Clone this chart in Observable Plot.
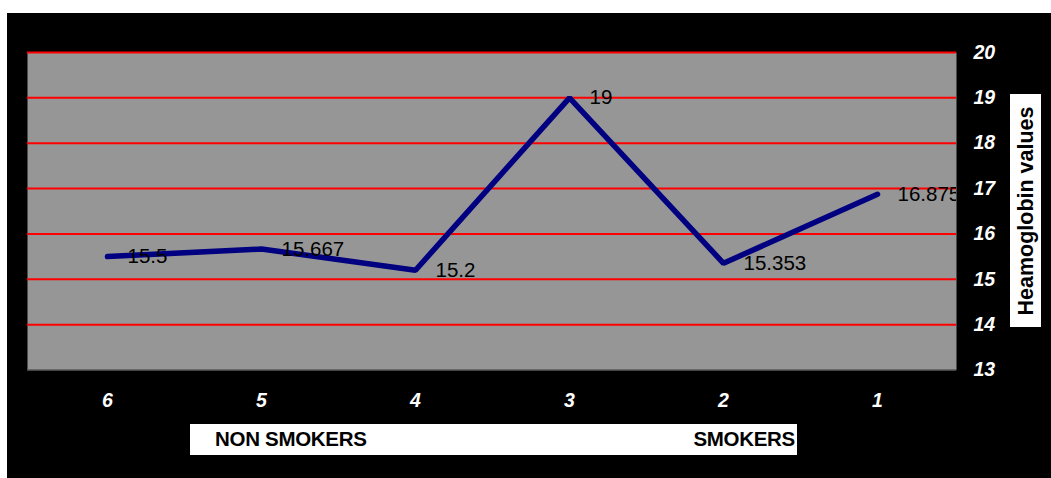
<!DOCTYPE html>
<html><head><meta charset="utf-8">
<script src="https://cdn.jsdelivr.net/npm/d3@7"></script>
<script src="https://cdn.jsdelivr.net/npm/@observablehq/plot@0.6"></script>
<style>
html,body{margin:0;padding:0;background:#fff;width:1051px;height:478px;overflow:hidden;font-family:Arial,"Liberation Sans",sans-serif;}
#panel{position:absolute;left:7px;top:13px;width:1044px;height:465px;background:#000;}
#panel svg{display:block;background:transparent;}
#ytitle{position:absolute;left:1010px;top:94px;width:31px;height:233px;background:#fff;}
#ytitle span{position:absolute;left:50%;top:50%;transform:translate(-50%,-50%) rotate(-90deg);white-space:nowrap;font-weight:bold;font-size:21.5px;color:#000;}
#groups{position:absolute;left:190px;top:424px;width:607px;height:31px;background:#fff;}
#groups span{position:absolute;top:4px;font-weight:bold;font-size:20.5px;line-height:22px;color:#000;letter-spacing:-0.3px;}
</style>
</head><body>
<div id="panel"></div>
<div id="ytitle"><span></span></div>
<div id="groups"></div>
<script>
const categories = ["6","5","4","3","2","1"];
const values = [15.5, 15.667, 15.2, 19, 15.353, 16.875];
const valueLabels = ["15.5","15.667","15.2","19","15.353","16.875"];
const yTicks = [13,14,15,16,17,18,19,20];
const gridLines = [14,15,16,17,18,19,20];
const yTitle = "Heamoglobin values";
const groupLabels = ["NON SMOKERS","SMOKERS"];

const data = categories.map((c,i)=>({cat:c, v:values[i], label:valueLabels[i]}));
const font = "Arial, 'Liberation Sans', sans-serif";

const chart = Plot.plot({
  width: 1044,
  height: 465,
  marginLeft: 20,
  marginRight: 95,
  marginTop: 39,
  marginBottom: 108.5,
  style: {background: "transparent", fontFamily: font},
  x: {type: "point", domain: categories, padding: 0.5, label: null},
  y: {domain: [13,20], label: null},
  marks: [
    Plot.frame({fill: "#969696", stroke: null}),
    Plot.ruleY(gridLines, {stroke: "#ff0000", strokeWidth: 2}),
    Plot.ruleY([13], {stroke: "#5a5a5a", strokeWidth: 1.5}),
    Plot.axisX({anchor: "bottom", tickSize: 0, tickPadding: 23, fontSize: 19.5, fontWeight: "bold", fontStyle: "italic", fill: "white", label: null}),
    Plot.axisY(yTicks, {anchor: "right", tickSize: 0, tickPadding: 17, fontSize: 19.5, fontWeight: "bold", fontStyle: "italic", fill: "white", textAnchor: "start", label: null}),
    Plot.line(data, {x: "cat", y: "v", stroke: "#000080", strokeWidth: 5.5, strokeLinejoin: "miter", strokeLinecap: "round"}),
    Plot.text(data, {x: "cat", y: "v", text: "label", textAnchor: "start", dx: 20, dy: 0, fontSize: 20.5, fill: "#000", clip: "frame"})
  ]
});
document.getElementById("panel").appendChild(chart);
document.querySelector("#ytitle span").textContent = yTitle;
const g = document.getElementById("groups");
const s1 = document.createElement("span"); s1.textContent = groupLabels[0]; s1.style.left = "25px"; g.appendChild(s1);
const s2 = document.createElement("span"); s2.textContent = groupLabels[1]; s2.style.right = "2px"; g.appendChild(s2);
</script>
</body></html>
